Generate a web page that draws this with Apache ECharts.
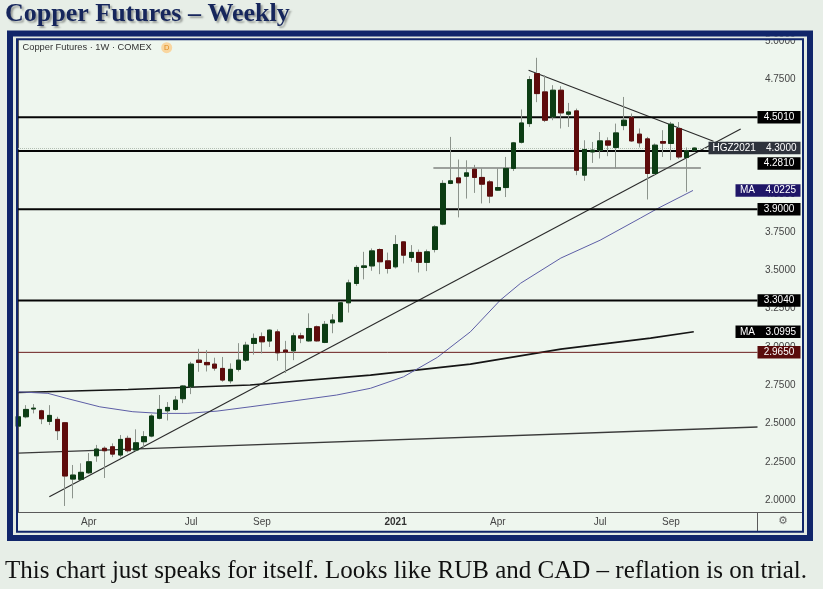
<!DOCTYPE html>
<html><head><meta charset="utf-8">
<script src="https://cdn.jsdelivr.net/npm/echarts@6/dist/echarts.min.js"></script>
<style>html,body{margin:0;padding:0;background:#e7eee7;}#c{width:823px;height:589px;}</style>
</head><body><div id="c"></div>
<script>
// ---- data ----
const firstWeek = '2020-02-03';
const totalWeeks = 95; // 87 weekly bars + empty space to the right
const openP  = [2.483,2.544,2.595,2.583,2.514,2.527,2.505,2.137,2.135,2.178,2.289,2.338,2.348,2.294,2.403,2.327,2.381,2.418,2.534,2.583,2.592,2.662,2.740,2.914,2.899,2.888,2.860,2.779,2.854,2.914,3.023,3.067,3.039,3.099,2.980,2.975,3.073,3.040,3.132,3.030,3.158,3.165,3.289,3.415,3.520,3.530,3.637,3.563,3.524,3.687,3.585,3.618,3.553,3.637,3.803,4.069,4.105,4.116,4.162,4.108,4.079,4.025,4.042,4.167,4.338,4.460,4.787,4.667,4.504,4.678,4.521,4.543,4.123,4.275,4.286,4.347,4.304,4.447,4.500,4.391,4.360,4.134,4.343,4.330,4.428,4.238,4.286];
const closeP = [2.544,2.592,2.600,2.531,2.553,2.453,2.157,2.163,2.181,2.250,2.333,2.322,2.300,2.396,2.322,2.374,2.414,2.549,2.592,2.605,2.653,2.745,2.888,2.899,2.884,2.862,2.784,2.854,2.914,3.012,3.056,3.034,3.110,2.962,2.967,3.073,3.058,3.121,3.040,3.148,3.176,3.289,3.419,3.520,3.530,3.628,3.557,3.513,3.670,3.600,3.618,3.553,3.622,3.785,4.069,4.086,4.073,4.138,4.108,4.064,3.986,4.042,4.167,4.334,4.464,4.748,4.656,4.482,4.678,4.530,4.536,4.155,4.291,4.286,4.347,4.319,4.399,4.482,4.347,4.334,4.134,4.319,4.332,4.456,4.242,4.282,4.300];
const lowP   = [2.470,2.534,2.566,2.496,2.490,2.392,1.961,2.011,2.130,2.170,2.250,2.144,2.280,2.279,2.310,2.316,2.340,2.410,2.527,2.520,2.585,2.633,2.692,2.838,2.840,2.845,2.773,2.762,2.840,2.903,2.950,2.958,3.000,2.910,2.830,2.914,3.025,3.034,3.035,3.025,3.090,3.160,3.225,3.400,3.442,3.498,3.476,3.480,3.513,3.546,3.557,3.487,3.496,3.618,3.796,4.064,3.847,3.970,4.007,3.938,3.940,4.020,3.980,4.150,4.330,4.438,4.600,4.470,4.482,4.428,4.438,4.123,4.086,4.203,4.232,4.247,4.167,4.417,4.340,4.304,3.964,4.120,4.242,4.221,4.230,4.014,4.280];
const highP  = [2.555,2.620,2.627,2.590,2.620,2.544,2.510,2.229,2.240,2.307,2.360,2.350,2.370,2.425,2.420,2.462,2.450,2.560,2.686,2.640,2.680,2.750,2.903,2.988,2.980,2.930,2.935,2.893,3.025,3.034,3.088,3.095,3.115,3.115,3.040,3.093,3.093,3.220,3.140,3.170,3.215,3.300,3.440,3.535,3.622,3.644,3.644,3.617,3.731,3.690,3.666,3.637,3.637,3.796,4.090,4.373,4.225,4.220,4.190,4.167,4.090,4.167,4.242,4.340,4.552,4.770,4.890,4.776,4.711,4.704,4.595,4.558,4.351,4.340,4.405,4.370,4.460,4.634,4.526,4.428,4.373,4.330,4.417,4.471,4.470,4.304,4.305];

// moving averages (bar position, price)
const maFastX = [0,3.8,6.2,10.4,14.6,18.1,21.5,25.3,29.5,32.1,40.5,44.8,49.0,53.3,57.5,61.3,63.9,69.0,74.0,79.1,81.3,85.8];
const maFastY = [2.707,2.697,2.664,2.609,2.577,2.566,2.566,2.581,2.609,2.627,2.686,2.730,2.805,2.932,3.099,3.306,3.417,3.581,3.698,3.842,3.905,4.023];
const maSlowX = [0,14,29.5,44.8,57.5,69,80.4,85.9];
const maSlowY = [2.703,2.722,2.752,2.816,2.888,2.986,3.058,3.0995];

// drawn lines
const levelsBold = [4.501, 4.281, 3.900, 3.304];
const levelThin = 2.965;
const shelf = {x: [52.8, 86.8], y: 4.170};
const trendUp   = {x: [3.98, 91.86], y: [2.0216, 4.425]};
const trendDown = {x: [64.9, 88.4],  y: [4.809, 4.345]};
const trendLong = {x: [0, 94],       y: [2.307, 2.477]};

// axis labels
const yTicks = [2.0,2.25,2.5,2.75,3.0,3.25,3.5,3.75,4.0,4.5,4.75,5.0];
const xTickIdx = [9,22,31,48,61,74,83];
const xTickText = ['Apr','Jul','Sep','2021','Apr','Jul','Sep'];

// price tags
const lastPrice = 4.300;
const maFastLast = 4.0225, maSlowLast = 3.0995;

// ---- build ----
const weeks = [];
{ const d0 = new Date(firstWeek + 'T00:00:00Z');
  for (let i = 0; i < totalWeeks; i++) { const d = new Date(d0.getTime() + i*7*86400000); weeks.push(d.toISOString().slice(0,10)); } }
const wickData = openP.map((o,i)=>[o, closeP[i], lowP[i], highP[i]]);
const bodyData = openP.map((o,i)=>[o, closeP[i], Math.min(o,closeP[i]), Math.max(o,closeP[i])]);
const seg = (xs, ys) => xs.map((x,i)=>[x, Array.isArray(ys)? ys[i] : ys]);
const XMAX = totalWeeks - 1;

function lineSeries(data, color, width, type){
  return {type:'line', xAxisIndex:1, yAxisIndex:0, data, symbol:'none', silent:true, z:4,
    lineStyle:{color, width, type: type||'solid'}, animation:false};
}
const F = 'Liberation Sans';
function tag(value, text, w, offX, offY, bg, rich){
  return {value:[XMAX, value], symbol:'rect', symbolSize:[w,12.5], symbolOffset:[offX, offY||0],
    itemStyle:{color:bg, opacity:1},
    label:{show:true, position:'inside', color:'#fff', fontSize:10, fontFamily:F, opacity:1,
      formatter: text, rich: rich}};
}
const richMA = {a:{width:22, align:'left', color:'#fff', fontSize:10, fontFamily:F},
                b:{width:34, align:'right', color:'#fff', fontSize:10, fontFamily:F}};
const richHG = {a:{width:44, align:'left', color:'#fff', fontSize:10, fontFamily:F},
                b:{width:40, align:'right', color:'#fff', fontSize:10, fontFamily:F}};

const series = [
  {type:'candlestick', name:'wick', xAxisIndex:0, yAxisIndex:0, data:wickData, barWidth:5, z:5,
    itemStyle:{color:'rgba(0,0,0,0)', color0:'rgba(0,0,0,0)', borderColor:'#8c948c', borderColor0:'#8c948c', borderWidth:1},
    markLine:{silent:true, symbol:'none', label:{show:false}, lineStyle:{color:'#b3bfb3', type:'dotted', width:1}, data:[{yAxis:lastPrice}]}},
  {type:'candlestick', name:'body', xAxisIndex:0, yAxisIndex:0, data:bodyData, barWidth:5, z:6,
    itemStyle:{color:'#0c3d14', color0:'#5e0c0c', borderColor:'#0c3d14', borderColor0:'#5e0c0c', borderWidth:1}},
  lineSeries(seg(trendLong.x, trendLong.y), '#3a3a3a', 1.3),
  lineSeries(seg(maSlowX, maSlowY), '#151515', 1.6),
  lineSeries(seg(maFastX, maFastY), '#5d5ea6', 1),
  lineSeries(seg(trendUp.x, trendUp.y), '#2a2a2a', 1.1),
  lineSeries(seg(trendDown.x, trendDown.y), '#2a2a2a', 1.1),
  lineSeries(seg(shelf.x, shelf.y), '#4a4a4a', 1.1),
  lineSeries(seg([0, XMAX], levelThin), '#6a1d1d', 1),
  ...levelsBold.map(v => lineSeries(seg([0, XMAX], v), '#050505', 2)),
  {type:'scatter', xAxisIndex:1, yAxisIndex:0, z:20, clip:false, silent:true, animation:false,
    itemStyle:{opacity:1},
    data:[
      tag(4.501, '4.5010', 43, 21.5, 0, '#000'),
      tag(lastPrice, '{a|HGZ2021}{b|4.3000}', 92, -3, 0, '#2e333c', richHG),
      tag(4.281, '4.2810', 43, 21.5, 12.5, '#000'),
      tag(maFastLast, '{a|MA}{b|4.0225}', 65, 10.5, 0, '#1f1668', richMA),
      tag(3.900, '3.9000', 43, 21.5, 0, '#000'),
      tag(3.304, '3.3040', 43, 21.5, 0, '#000'),
      tag(maSlowLast, '{a|MA}{b|3.0995}', 65, 10.5, 0, '#000', richMA),
      tag(levelThin, '2.9650', 43, 21.5, 0, '#5a0c0c')
    ]}
];

const chart = echarts.init(document.getElementById('c'), null, {renderer:'canvas'});
const navy = '#10256a';
chart.setOption({
  animation:false,
  backgroundColor:'#e7eee7',
  grid:{left:18, top:40.25, right:65.5, bottom:76.5, containLabel:false},
  xAxis:[
    {type:'category', data:weeks, boundaryGap:false,
      axisLine:{lineStyle:{color:'#5a5a5a', width:1}}, axisTick:{show:false}, splitLine:{show:false},
      axisLabel:{interval:(i)=>xTickIdx.indexOf(i)>=0, margin:5, color:'#444', fontSize:10, fontFamily:F,
        formatter:(v,i)=>{const k=xTickIdx.indexOf(i); if(k<0) return ''; return xTickText[k]==='2021' ? '{b|2021}' : xTickText[k];},
        rich:{b:{fontWeight:'bold', color:'#333', fontSize:10, fontFamily:F}}}},
    {type:'value', min:0, max:XMAX, show:false}
  ],
  yAxis:[{type:'value', position:'right', min:1.9184, max:5.0046, scale:true,
    axisLine:{show:true, lineStyle:{color:'#5a5a5a', width:1}}, axisTick:{show:false}, splitLine:{show:false},
    axisLabel:{customValues:yTicks, formatter:(v)=>v.toFixed(4), align:'right', margin:38, color:'#444', fontSize:10, fontFamily:F}}],
  series,
  graphic:[
    {type:'rect', z:-1, shape:{x:18, y:40.25, width:785, height:490.5}, style:{fill:'#eef6ee'}},
    {type:'line', z:1, shape:{x1:757.5, y1:512.5, x2:803, y2:512.5}, style:{stroke:'#5a5a5a', lineWidth:1}},
    {type:'line', z:1, shape:{x1:757.5, y1:512.5, x2:757.5, y2:531}, style:{stroke:'#5a5a5a', lineWidth:1}},
    {type:'text', z:1, x:783, y:521, style:{text:'\u2699', fill:'#666', fontSize:11, fontFamily:'DejaVu Sans', align:'center', verticalAlign:'middle'}},
    {type:'text', z:30, x:22.5, y:47.5, style:{text:'Copper Futures \u00b7 1W \u00b7 COMEX', fill:'#333', fontSize:9.3, fontFamily:F, verticalAlign:'middle'}},
    {type:'circle', z:30, shape:{cx:166.7, cy:47.7, r:5.5}, style:{fill:'#f9d6a0'}},
    {type:'text', z:31, x:166.7, y:47.9, style:{text:'D', fill:'#e08a1c', fontSize:7.5, fontFamily:F, align:'center', verticalAlign:'middle'}},
    // frame
    {type:'rect', z:50, shape:{x:14.25, y:37.75, width:791.5, height:495.5}, style:{fill:null, stroke:'#e2eae2', lineWidth:2.5}},
    {type:'rect', z:51, shape:{x:10, y:33.5, width:800, height:504.5}, style:{fill:null, stroke:navy, lineWidth:6}},
    {type:'rect', z:51, shape:{x:17, y:39.25, width:786, height:492.5}, style:{fill:null, stroke:navy, lineWidth:2}},
    // title and caption
    {type:'text', z:60, x:5, y:14, style:{text:'Copper Futures \u2013 Weekly', fill:'#16265c', fontSize:26, fontWeight:'bold', fontFamily:'Liberation Serif', verticalAlign:'middle',
      textShadowColor:'rgba(0,0,0,0.35)', textShadowBlur:2, textShadowOffsetX:2, textShadowOffsetY:2}},
    {type:'text', z:60, x:5, y:571, style:{text:'This chart just speaks for itself. Looks like RUB and CAD \u2013 reflation is on trial.', fill:'#111', fontSize:25, fontFamily:'Liberation Serif', verticalAlign:'middle'}}
  ]
});
</script></body></html>
